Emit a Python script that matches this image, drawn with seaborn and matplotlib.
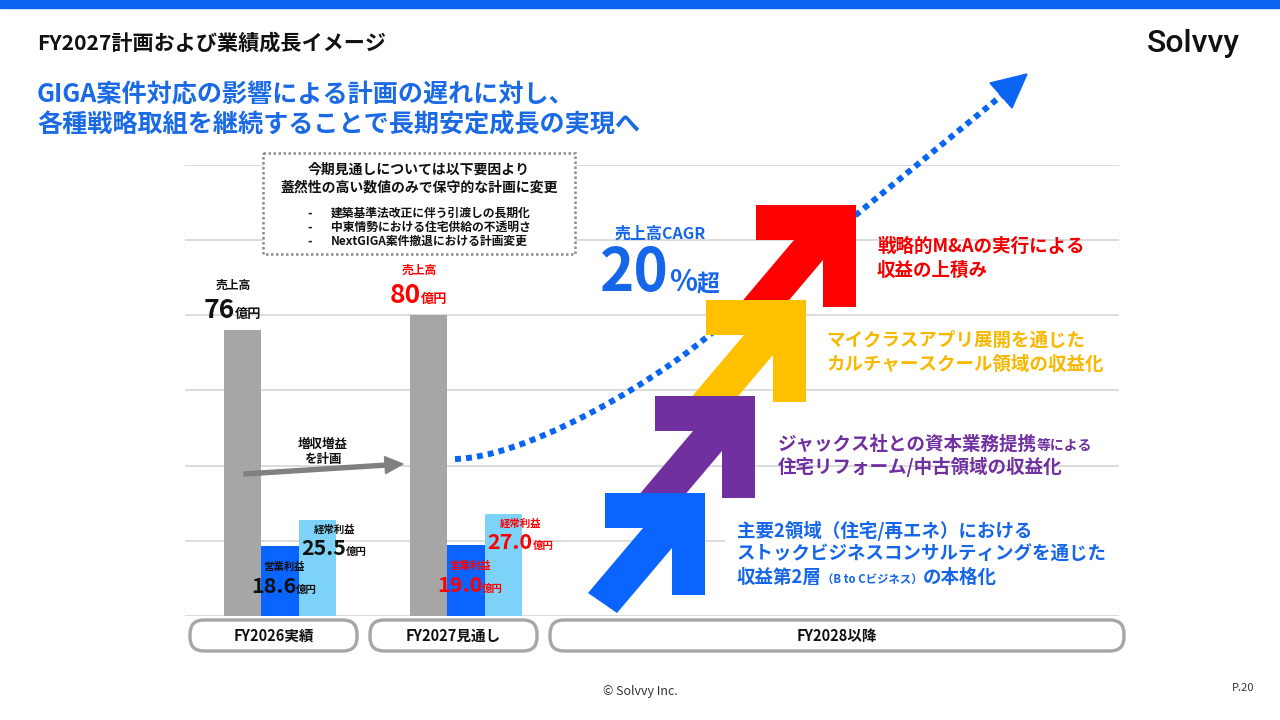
import matplotlib
matplotlib.use("Agg")
import matplotlib.pyplot as plt
import seaborn as sns
import pandas as pd
from matplotlib.patches import Polygon, FancyBboxPatch, Rectangle, FancyArrow, PathPatch
from matplotlib.path import Path

# ---------------- data ----------------
periods = ["FY2026実績", "FY2027見通し"]
future_label = "FY2028以降"
metrics = ["売上高", "営業利益", "経常利益"]
revenue = [76.0, 80.0]
operating_profit = [18.6, 19.0]
ordinary_profit = [25.5, 27.0]
unit = "億円"
label_colors = ["#111111", "#FF0000"]

title_text = "FY2027計画および業績成長イメージ"
subtitle_lines = ["GIGA案件対応の影響による計画の遅れに対し、",
                  "各種戦略取組を継続することで長期安定成長の実現へ"]
note_head = ["今期見通しについては以下要因より", "蓋然性の高い数値のみで保守的な計画に変更"]
note_items = ["建築基準法改正に伴う引渡しの長期化", "中東情勢における住宅供給の不透明さ",
              "NextGIGA案件撤退における計画変更"]
arrow_note = ["増収増益", "を計画"]
cagr_label = "売上高CAGR"
cagr_value = "20"
cagr_pct = "%"
cagr_over = "超"

# strategy texts: list of lines; each line = list of (text, is_small)
strategy_red = [[("戦略的M&Aの実行による", False)], [("収益の上積み", False)]]
strategy_yellow = [[("マイクラスアプリ展開を通じた", False)], [("カルチャースクール領域の収益化", False)]]
strategy_purple = [[("ジャックス社との資本業務提携", False), ("等による", True)],
                   [("住宅リフォーム/中古領域の収益化", False)]]
strategy_blue = [[("主要2領域（住宅/再エネ）における", False)],
                 [("ストックビジネスコンサルティングを通じた", False)],
                 [("収益第2層", False), ("（B to Cビジネス）", True), ("の本格化", False)]]

# ---------------- style ----------------
sns.set_theme(style="white")
FONT = ["Noto Sans CJK JP", "DejaVu Sans"]
plt.rcParams["font.family"] = FONT

GRAY_BAR = "#A6A6A6"
BLUE_BAR = "#0A64FF"
LBLUE_BAR = "#7DD3F7"
RED = "#FF0000"
YELLOW = "#FFC000"
PURPLE = "#7030A0"
BLUE = "#0A64FF"
TXT_BLUE = "#1566E8"
GRID = "#D9D9D9"

W, H = 1280, 720
fig = plt.figure(figsize=(12.8, 7.2), dpi=100)
fig.patch.set_facecolor("white")

# ---------------- bar chart axes ----------------
px_per_unit = 3.76
ax = fig.add_axes([185 / W, 104 / H, 934 / W, 120 * px_per_unit / H])
df = pd.DataFrame({
    "period": periods * 3,
    "metric": [metrics[0]] * 2 + [metrics[1]] * 2 + [metrics[2]] * 2,
    "value": revenue + operating_profit + ordinary_profit,
})
sns.barplot(data=df, x="period", y="value", hue="metric", order=periods, hue_order=metrics,
            palette=[GRAY_BAR, BLUE_BAR, LBLUE_BAR], width=0.6, saturation=1,
            linewidth=0, legend=False, ax=ax, errorbar=None)
for p in ax.patches:
    p.set_zorder(3)
XL = (-0.5108, 4.5108)
ax.set_xlim(*XL)
ax.set_ylim(0, 120)
ax.set_axis_off()
grid_vals = [0, 20, 40, 60, 80, 100, 120]
for v in grid_vals:
    xmax = 2.39 if v == 20 else XL[1]
    ax.hlines(v, XL[0], xmax, color=GRID, lw=1.3, zorder=1)

# ---------------- overlay (pixel coordinates) ----------------
ov = fig.add_axes([0, 0, 1, 1], zorder=5)
ov.set_xlim(0, W)
ov.set_ylim(H, 0)
ov.set_axis_off()
ov.patch.set_alpha(0)
renderer = fig.canvas.get_renderer()


def bl(cy, size):
    return cy + 0.38 * size * 100 / 72


def runs(x, y, pieces, color, ha="left", weight="bold", z=8):
    texts, widths = [], []
    for s, size in pieces:
        t = ov.text(0, y, s, fontsize=size, color=color, fontweight=weight,
                    va="baseline", ha="left", zorder=z)
        widths.append(t.get_window_extent(renderer).width)
        texts.append(t)
    total = sum(widths)
    x0 = x - total / 2 if ha == "center" else x
    for t, w in zip(texts, widths):
        t.set_x(x0)
        x0 += w


def to_px(x, y):
    dx, dy = ax.transData.transform((x, y))
    return dx, H - dy


# top band
ov.add_patch(Rectangle((0, 0), W, 8, color="#0A64F0", zorder=2))

# title & subtitle
ov.text(37, bl(42, 15.2), title_text, fontsize=15.2, fontweight="bold", color="#111111", va="baseline")
for cy, line in zip([93, 123], subtitle_lines):
    ov.text(37, bl(cy, 18.1), line, fontsize=18.1, fontweight="bold", color="#1A6AE6", va="baseline")

# logo
ov.text(1193, 43, "Solvvy", fontsize=23, family=["Roboto", "DejaVu Sans"], fontweight="medium",
        color="#111111", ha="center", va="center")

# footer
ov.text(640, 691, "© Solvvy Inc.", fontsize=9, color="#333333", ha="center", va="center")
ov.text(1243, 688, "P.20", fontsize=8, color="#333333", ha="center", va="center")

# note box
ov.add_patch(Rectangle((263, 153), 312, 101, facecolor="white", edgecolor="#8C8C8C",
                       lw=1.8, linestyle=(0, (1, 1)), zorder=3))
ov.text(419, bl(168, 10), note_head[0], fontsize=10, fontweight="bold", color="#111111",
        ha="center", va="baseline", zorder=6)
ov.text(419, bl(186, 10), note_head[1], fontsize=10, fontweight="bold", color="#111111",
        ha="center", va="baseline", zorder=6)
for cy, item in zip([212, 226, 240], note_items):
    ov.text(310, bl(cy, 8.5), "-", fontsize=8.5, fontweight="bold", color="#111111",
            ha="center", va="baseline", zorder=6)
    ov.text(331, bl(cy, 8.5), item, fontsize=8.5, fontweight="bold", color="#111111",
            va="baseline", zorder=6)

# category boxes
box_spans = [(190, 357), (370, 537), (550, 1124)]
for (x0, x1), lab in zip(box_spans, periods + [future_label]):
    ov.add_patch(FancyBboxPatch((x0, 620), x1 - x0, 31, boxstyle="round,pad=0,rounding_size=14",
                                facecolor="white", edgecolor="#A6A6A6", lw=2.4, zorder=3))
    ov.text((x0 + x1) / 2, bl(635.5, 10.5), lab, fontsize=10.5, fontweight="bold",
            color="#111111", ha="center", va="baseline", zorder=6)

# bar value labels
for i in range(len(periods)):
    c = label_colors[i]
    gx, gy = to_px(i - 0.2, revenue[i])
    runs(gx - 10, gy - 12, [(f"{revenue[i]:.0f}", 19), (unit, 9.5)], c, ha="center")
    runs(gx - 10, gy - 41, [(metrics[0], 8.5)], c, ha="center")
    bx, by = to_px(i, operating_profit[i])
    runs(bx + 4, by + 47, [(f"{operating_profit[i]:.1f}", 15.5), (unit, 7.5)], c, ha="center")
    runs(bx + 4, by + 24, [(metrics[1], 7.5)], c, ha="center")
    lx, ly = to_px(i + 0.2, ordinary_profit[i])
    runs(lx + 17, ly + 35, [(f"{ordinary_profit[i]:.1f}", 15.5), (unit, 7.5)], c, ha="center")
    runs(lx + 17, ly + 13, [(metrics[2], 7.5)], c, ha="center")

# gray growth arrow
ov.add_patch(FancyArrow(244, 474, 403 - 244, 464 - 474, width=4, head_width=17, head_length=18,
                        length_includes_head=True, color="#808080", zorder=6))
ov.text(323, bl(443, 9), arrow_note[0], fontsize=9, fontweight="bold", color="#111111",
        ha="center", va="baseline", zorder=7)
ov.text(323, bl(458, 9), arrow_note[1], fontsize=9, fontweight="bold", color="#111111",
        ha="center", va="baseline", zorder=7)

# dotted growth curve
verts = [(455, 459), (520, 458), (640, 392), (707, 337), (1012, 87)]
codes = [Path.MOVETO, Path.CURVE4, Path.CURVE4, Path.CURVE4, Path.LINETO]
ov.add_patch(PathPatch(Path(verts, codes), fill=False, edgecolor="#0A66F2", lw=4.3,
                       linestyle=(0, (1, 0.85)), capstyle="butt", zorder=1))
ov.add_patch(Polygon([(1027, 74), (990, 83), (1012, 108)], closed=True, color="#0A66F2", zorder=1))

# stair arrows
shape = [(0, 0), (-100, 0), (-100, 35), (-62, 35), (-117, 100), (-88, 120),
         (-33, 55), (-33, 102), (0, 102)]
tops = [((856, 205), RED), ((806, 300), YELLOW), ((755, 396), PURPLE), ((705, 493), BLUE)]
for z, ((tx, ty), col) in enumerate(tops):
    ov.add_patch(Polygon([(tx + dx, ty + dy) for dx, dy in shape], closed=True,
                         facecolor=col, edgecolor="none", zorder=2 + z))

# CAGR
runs(660, bl(233, 11.5), [(cagr_label, 11.5)], TXT_BLUE, ha="center")
runs(600, 291, [(cagr_value, 42), (cagr_pct, 21), (cagr_over, 16.5)], TXT_BLUE)

# strategy texts
MAIN = 13.3


def strategy(x, centers, lines, color, small=9.5):
    for cy, line in zip(centers, lines):
        runs(x, bl(cy, MAIN), [(s, small if sm else MAIN) for s, sm in line], color)


strategy(877, [245, 269], strategy_red, "#F00000")
strategy(826, [339, 363], strategy_yellow, "#F7B800")
strategy(778, [443, 466], strategy_purple, PURPLE, small=10)
strategy(737, [530, 553, 576], strategy_blue, TXT_BLUE, small=8.2)

fig.savefig("out.png", dpi=100, facecolor="white")
